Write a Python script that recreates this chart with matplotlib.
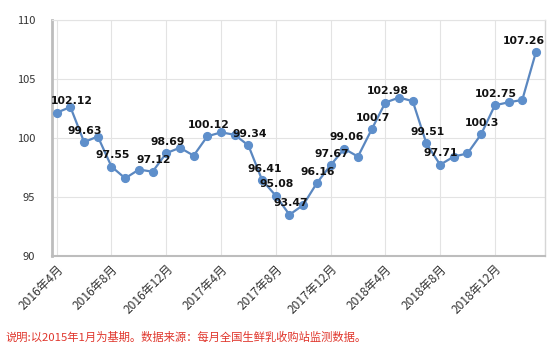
import matplotlib
matplotlib.use("Agg")
import matplotlib.pyplot as plt
import numpy as np

# monthly index, 2016-04 .. 2019-03 (base: 2015-01 = 100)
values = [102.12, 102.6, 99.63, 100.1, 97.55, 96.56, 97.3, 97.12, 98.69, 99.15,
          98.48, 100.12, 100.45, 100.25, 99.34, 96.41, 95.08, 93.47, 94.3, 96.16,
          97.67, 99.06, 98.4, 100.7, 102.98, 103.4, 103.1, 99.51, 97.71, 98.4,
          98.67, 100.3, 102.75, 103.0, 103.2, 107.26]
tick_labels = ["2016年4月", "2016年8月", "2016年12月", "2017年4月", "2017年8月",
               "2017年12月", "2018年4月", "2018年8月", "2018年12月"]
labeled = [0, 2, 4, 7, 8, 11, 14, 15, 16, 17, 19, 20, 21, 23, 24, 27, 28, 31, 32, 35]
caption = "说明:以2015年1月为基期。数据来源：每月全国生鲜乳收购站监测数据。"

plt.rcParams['font.family'] = ['Noto Sans CJK SC', 'DejaVu Sans']

fig = plt.figure(figsize=(5.58, 3.55), dpi=100)
ax = fig.add_axes([0.0927, 0.2797, 0.884, 0.6648])

x = np.arange(len(values))
ax.plot(x, values, color='#5A87C0', linewidth=1.6, marker='o', markersize=5.6,
        markerfacecolor='#5E8FCB', markeredgecolor='#5E8FCB', zorder=3)

# label offsets in pixels (most sit straight above the point)
dx = {0: 15, 15: 3, 21: 2, 24: 2, 35: -12}
for i in labeled:
    ax.annotate(f"{values[i]:g}", (x[i], values[i]), xytext=(dx.get(i, 1), 11.5),
                textcoords='offset pixels', ha='center', va='center',
                fontsize=7.8, fontweight='bold', family='DejaVu Sans', color='#111111',
                zorder=4)

ax.set_xlim(-0.365, 35.66)
ax.set_ylim(90, 110)
ax.set_yticks([90, 95, 100, 105, 110])
ax.set_xticks(x[::4])
ax.set_xticklabels(tick_labels, rotation=45, ha='right', rotation_mode='anchor')
ax.tick_params(axis='both', length=0, labelcolor='#333333')
ax.tick_params(axis='y', pad=12, labelsize=8)
ax.tick_params(axis='x', pad=5, labelsize=8.6)

ax.grid(True, color='#E3E3E3', linewidth=0.8, zorder=0)
ax.set_axisbelow(True)
ax.spines['left'].set_color('#BDBDBD')
ax.spines['left'].set_linewidth(2)
ax.spines['bottom'].set_color('#BDBDBD')
ax.spines['bottom'].set_linewidth(1.5)
ax.spines['right'].set_color('#D6D6D6')
ax.spines['right'].set_linewidth(1)
ax.spines['top'].set_color('#E3E3E3')
ax.spines['top'].set_linewidth(0.8)

fig.text(0.009, 1 - 337 / 355, caption, color='#E0362C', fontsize=8.15, va='center')

fig.savefig("out.png", dpi=100)
